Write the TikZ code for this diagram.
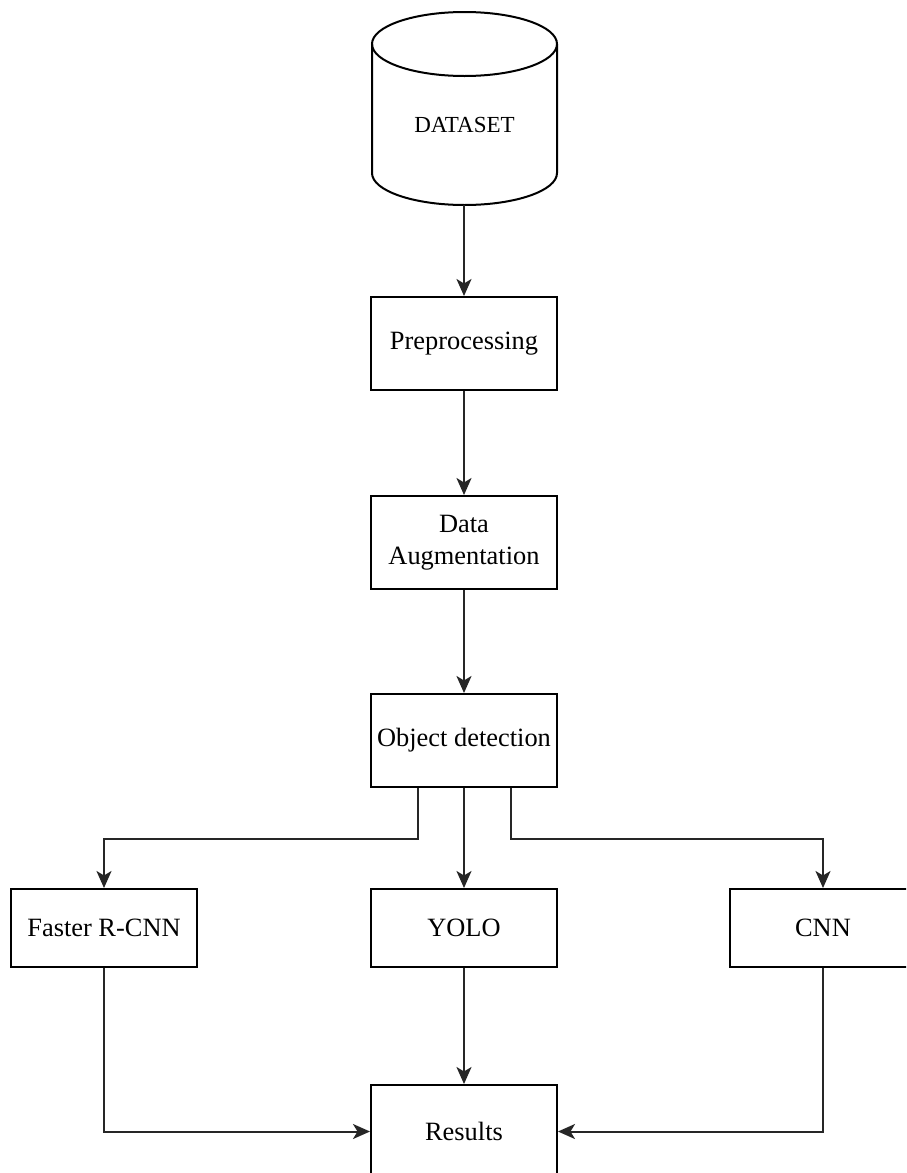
\documentclass[tikz,border=0pt]{standalone}
\usepackage{fontspec}
\setmainfont{Liberation Serif}
\usetikzlibrary{arrows.meta}
\begin{document}
\begin{tikzpicture}[x=1pt,y=-1pt,
  line width=2pt,
  stagebox/.style={draw, rectangle, minimum width=186pt, minimum height=93pt,
    inner sep=0pt, align=center, font=\fontsize{26.4}{32}\selectfont},
  modelbox/.style={stagebox, minimum height=78pt},
  arr/.style={draw=black!85, -{Stealth[length=17pt,width=15pt,inset=4.5pt]}}]
\clip (0,0) rectangle (906,1173);
\fill[white] (0,0) rectangle (906,1173);

% database cylinder
\draw (372,44) -- (372,173)
  arc[start angle=180, end angle=360, x radius=92.5pt, y radius=32pt]
  -- (557,44);
\draw (464.5,44) ellipse [x radius=92.5pt, y radius=32pt];
\node[font=\fontsize{23}{27}\selectfont] (data) at (464.5,125) {DATASET};
\coordinate (databot) at (464,205);

% pipeline stages
\node[stagebox] (pre) at (464,343.5) {Preprocessing};
\node[stagebox] (aug) at (464,542.5) {Data\\Augmentation};
\node[stagebox] (od)  at (464,740.5) {Object detection};

% detectors
\node[modelbox] (frcnn) at (104,928) {Faster R-CNN};
\node[modelbox] (yolo)  at (464,928) {YOLO};
\node[modelbox] (cnn)   at (823,928) {CNN};

\node[stagebox] (res) at (464,1131.5) {Results};

% connectors
\draw[arr] (databot) -- (pre.north);
\draw[arr] (pre.south) -- (aug.north);
\draw[arr] (aug.south) -- (od.north);
\draw[arr] ([xshift=-46pt]od.south) -- ++(0,51) -| (frcnn.north);
\draw[arr] (od.south) -- (yolo.north);
\draw[arr] ([xshift=47pt]od.south) -- ++(0,51) -| (cnn.north);
\draw[arr] (yolo.south) -- (res.north);
\draw[arr] (frcnn.south) |- (res.west);
\draw[arr] (cnn.south) |- (res.east);
\end{tikzpicture}
\end{document}
